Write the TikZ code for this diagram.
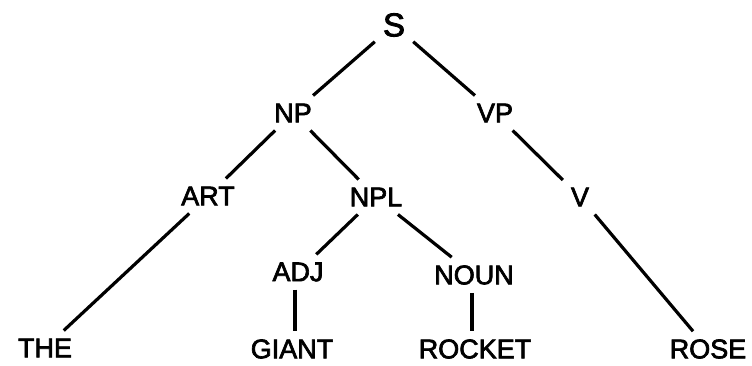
\documentclass[tikz,border=0pt]{standalone}
\usepackage{fontspec}
\setmainfont{Liberation Sans}
\newfontfamily\lblfont{Liberation Sans}[FakeBold=2.5]
\begin{document}
\begin{tikzpicture}[x=1pt,y=-1pt,
  lbl/.style={inner sep=8pt,font=\lblfont\fontsize{27}{30}\selectfont},
  big/.style={inner sep=8pt,font=\lblfont\fontsize{33}{36}\selectfont},
  edge/.style={line width=3.2pt}]
\useasboundingbox (0,0) rectangle (752,366);
\node[big] (s) at (394,25) {S};
\node[lbl] (np) at (293,113) {NP};
\node[lbl] (vp) at (495,113) {VP};
\node[lbl] (art) at (208,196) {ART};
\node[lbl] (npl) at (376,197) {NPL};
\node[lbl] (v) at (580,197) {V};
\node[lbl] (adj) at (298,272) {ADJ};
\node[lbl] (noun) at (474,275) {NOUN};
\node[lbl] (the) at (45,348) {THE};
\node[lbl] (giant) at (292,349) {GIANT};
\node[lbl] (rocket) at (475,349) {ROCKET};
\node[lbl] (rose) at (708,349) {ROSE};
\draw[edge] (s) -- (np);
\draw[edge] (s) -- (vp);
\draw[edge] (np) -- (art);
\draw[edge] (np) -- (npl);
\draw[edge] (vp) -- (v);
\draw[edge] (art) -- (the);
\draw[edge] (npl) -- (adj);
\draw[edge] (npl) -- (noun);
\draw[edge] (v) -- (rose);
\draw[edge] ([xshift=-3pt]adj.south) -- ([xshift=3pt]giant.north);
\draw[edge] ([xshift=-2pt]noun.south) -- ([xshift=-3pt]rocket.north);
\end{tikzpicture}
\end{document}
